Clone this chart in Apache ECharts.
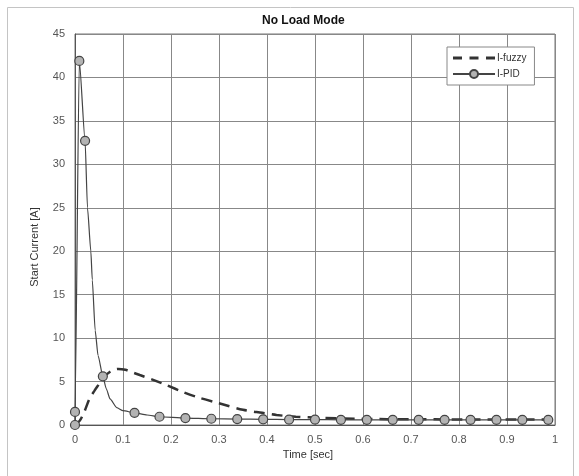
<!DOCTYPE html>
<html>
<head>
<meta charset="utf-8">
<script src="https://cdn.jsdelivr.net/npm/echarts@6/dist/echarts.min.js"></script>
<style>html,body{margin:0;padding:0;background:#fff;}#c{width:579px;height:476px;}</style>
</head>
<body>
<div id="c"></div>
<script>
var chartTitle = 'No Load Mode';
var xAxisName = 'Time [sec]';
var yAxisName = 'Start Current [A]';
var seriesNames = ['I-fuzzy', 'I-PID'];

// I-fuzzy (dashed line)
var fuzzyX = [0, 0.01, 0.02, 0.03, 0.04, 0.05, 0.06, 0.075, 0.09, 0.105, 0.12, 0.135, 0.16, 0.19, 0.225, 0.255, 0.3, 0.35, 0.39, 0.42, 0.46, 0.5, 0.6, 0.7, 0.8, 0.9, 1.0];
var fuzzyY = [0, 0.5, 1.6, 3.0, 3.9, 4.7, 5.5, 6.2, 6.45, 6.35, 6.05, 5.75, 5.25, 4.6, 3.8, 3.2, 2.5, 1.75, 1.4, 1.15, 0.95, 0.85, 0.7, 0.66, 0.64, 0.62, 0.62];

// I-PID (solid line; marked = 1 where a circle is drawn)
var pidX = [0, 0, 0.009, 0.021, 0.026, 0.033, 0.036, 0.042, 0.048, 0.058, 0.065, 0.073, 0.087, 0.1, 0.124, 0.15, 0.176, 0.23, 0.284, 0.338, 0.392, 0.446, 0.5, 0.554, 0.608, 0.662, 0.716, 0.77, 0.824, 0.878, 0.932, 0.986];
var pidY = [0, 1.5, 41.9, 32.7, 25, 20, 16.7, 10.9, 8, 5.6, 4.2, 3.0, 2.0, 1.65, 1.4, 1.15, 0.95, 0.8, 0.72, 0.68, 0.65, 0.63, 0.62, 0.6, 0.6, 0.6, 0.6, 0.6, 0.6, 0.6, 0.6, 0.6];
var pidMarked = [1, 1, 1, 1, 0, 0, 0, 0, 0, 1, 0, 0, 0, 0, 1, 0, 1, 1, 1, 1, 1, 1, 1, 1, 1, 1, 1, 1, 1, 1, 1, 1];

var xTicks = [0, 0.1, 0.2, 0.3, 0.4, 0.5, 0.6, 0.7, 0.8, 0.9, 1];
var yTicks = [0, 5, 10, 15, 20, 25, 30, 35, 40, 45];

var fuzzyData = fuzzyX.map(function (x, i) { return [x, fuzzyY[i]]; });
var pidData = pidX.map(function (x, i) {
  return pidMarked[i] ? { value: [x, pidY[i]] } : { value: [x, pidY[i]], symbol: 'none' };
});

var font = 'Liberation Sans, Arial, sans-serif';
var chart = echarts.init(document.getElementById('c'), null, { renderer: 'canvas' });
chart.setOption({
  backgroundColor: '#ffffff',
  animation: false,
  title: {
    text: chartTitle, left: 257, top: 10,
    textStyle: { fontFamily: font, fontSize: 12, fontWeight: 'bold', color: '#111' }
  },
  grid: { left: 75, right: 24, top: 34, bottom: 51, show: true, borderColor: '#777', borderWidth: 1 },
  legend: {
    orient: 'vertical', left: 447, top: 47,
    padding: [6, 8, 6, 5], itemGap: 6, itemWidth: 42, itemHeight: 10,
    backgroundColor: '#fff', borderColor: '#888', borderWidth: 1,
    textStyle: { fontFamily: font, fontSize: 10, color: '#333', padding: [0, 0, 0, -3] },
    data: [
      { name: seriesNames[0], icon: 'path://M0,3.5h9v3h-9z M16.5,3.5h9v3h-9z M33,3.5h9v3h-9z', itemStyle: { color: '#333', borderWidth: 0 } },
      { name: seriesNames[1] }
    ]
  },
  xAxis: {
    type: 'value', min: xTicks[0], max: xTicks[xTicks.length - 1], interval: 0.1,
    axisLine: { show: true, lineStyle: { color: '#555' } },
    axisTick: { show: false },
    axisLabel: { fontFamily: font, fontSize: 11, color: '#555', margin: 9,
      formatter: function (v) { return String(Math.round(v * 10) / 10); } },
    splitLine: { show: true, lineStyle: { color: '#888', width: 1 } }
  },
  yAxis: {
    type: 'value', min: yTicks[0], max: yTicks[yTicks.length - 1], interval: 5,
    axisLine: { show: true, lineStyle: { color: '#555' } },
    axisTick: { show: false },
    axisLabel: { fontFamily: font, fontSize: 11, color: '#555', margin: 10 },
    splitLine: { show: true, lineStyle: { color: '#888', width: 1 } }
  },
  graphic: [
    { type: 'rect', shape: { x: 7.5, y: 7.5, width: 566, height: 480 }, style: { fill: 'none', stroke: '#c4c4c4', lineWidth: 1 }, silent: true, z: -1 },
    { type: 'text', x: 35, y: 247, rotation: Math.PI / 2, style: { text: yAxisName, font: '11px ' + font, fill: '#333', textAlign: 'center', textVerticalAlign: 'middle' } },
    { type: 'text', x: 308, y: 455, style: { text: xAxisName, font: '11px ' + font, fill: '#333', textAlign: 'center', textVerticalAlign: 'middle' } }
  ],
  series: [
    {
      name: seriesNames[0], type: 'line', data: fuzzyData, smooth: 0.3,
      symbol: 'none', showSymbol: false,
      lineStyle: { color: '#333', width: 2.5, type: [11, 7] },
      itemStyle: { color: '#333' }, z: 2
    },
    {
      name: seriesNames[1], type: 'line', data: pidData, smooth: 0.2, smoothMonotone: 'x',
      symbol: 'circle', symbolSize: 9, showAllSymbol: true,
      lineStyle: { color: '#444', width: 1.2 },
      itemStyle: { color: '#b3b3b3', borderColor: '#444', borderWidth: 1.2 }, z: 3
    }
  ]
});
</script>
</body>
</html>
